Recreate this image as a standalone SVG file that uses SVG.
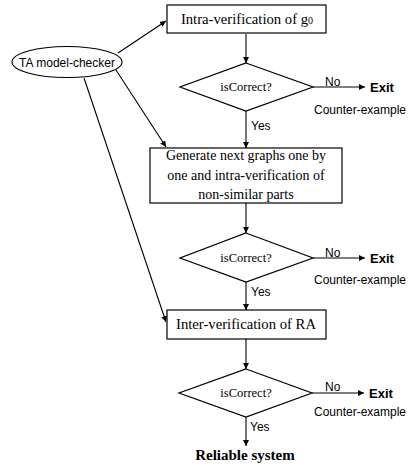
<svg xmlns="http://www.w3.org/2000/svg" width="409" height="466" viewBox="0 0 409 466">
<defs>
<marker id="ah" viewBox="0 0 10 10" refX="10" refY="5" markerWidth="6" markerHeight="6" markerUnits="userSpaceOnUse" orient="auto">
<path d="M0,0 L10,5 L0,10 z" fill="#000"/>
</marker>
</defs>
<style>
.box{fill:#fff;stroke:#000;stroke-width:1.2}
.ln{fill:none;stroke:#000;stroke-width:1.1;marker-end:url(#ah)}
.ser{font-family:"Liberation Serif","Times New Roman",serif;font-size:14px;fill:#000;text-anchor:middle}
.big{font-size:14.7px}
.dec{font-family:"Liberation Serif","Times New Roman",serif;font-size:12.5px;fill:#000;text-anchor:middle}
.sans{font-family:"Liberation Sans",Arial,sans-serif;font-size:12px;fill:#000}
.exit{font-family:"Liberation Sans",Arial,sans-serif;font-size:13px;font-weight:bold;fill:#000}
.bold{font-family:"Liberation Serif","Times New Roman",serif;font-size:15px;font-weight:bold;fill:#000;text-anchor:middle}
</style>
<g id="connectors">
<line class="ln" x1="118" y1="53" x2="166" y2="21"/>
<line class="ln" x1="116" y1="70" x2="166" y2="147"/>
<line class="ln" x1="84" y1="78" x2="166" y2="322"/>
<line class="ln" x1="246" y1="34" x2="246" y2="63"/>
<line class="ln" x1="246" y1="111" x2="246" y2="148"/>
<line class="ln" x1="313" y1="87" x2="365" y2="87"/>
<line class="ln" x1="246" y1="203" x2="246" y2="233"/>
<line class="ln" x1="246" y1="282" x2="246" y2="310"/>
<line class="ln" x1="313" y1="258" x2="365" y2="258"/>
<line class="ln" x1="246" y1="339" x2="246" y2="369"/>
<line class="ln" x1="246" y1="417" x2="246" y2="446"/>
<line class="ln" x1="312" y1="393" x2="364" y2="393"/>
<text class="sans" x="325" y="86">No</text>
<text class="sans" x="251" y="130">Yes</text>
<text class="sans" x="325" y="257">No</text>
<text class="sans" x="251" y="296">Yes</text>
<text class="sans" x="325" y="391">No</text>
<text class="sans" x="250" y="431">Yes</text>
</g>
<g id="model-checker">
<ellipse cx="67" cy="62" rx="55" ry="15.5" fill="#fff" stroke="#000" stroke-width="1.1"/>
<text class="sans" x="67" y="66.5" text-anchor="middle">TA model-checker</text>
</g>
<g id="intra-g0">
<rect class="box" x="167" y="5" width="159" height="28"/>
<text class="ser big" x="247" y="24">Intra-verification of g<tspan font-size="10">0</tspan></text>
</g>
<g id="check1">
<polygon class="box" points="246,63 313,87 246,111 180,87"/>
<text class="dec" x="246" y="91">isCorrect?</text>
</g>
<g id="exit1">
<text class="exit" x="370" y="92">Exit</text>
<text class="sans" x="314" y="114">Counter-example</text>
</g>
<g id="generate">
<rect class="box" x="150" y="148" width="192" height="55"/>
<text class="ser" x="246" y="160">Generate next graphs one by</text>
<text class="ser" x="246" y="180">one and intra-verification of</text>
<text class="ser" x="246" y="199">non-similar parts</text>
</g>
<g id="check2">
<polygon class="box" points="246,233 313,258 246,282 180,258"/>
<text class="dec" x="246" y="262">isCorrect?</text>
</g>
<g id="exit2">
<text class="exit" x="370" y="263">Exit</text>
<text class="sans" x="314" y="284">Counter-example</text>
</g>
<g id="inter-ra">
<rect class="box" x="167" y="310" width="159" height="29"/>
<text class="ser big" x="246" y="329">Inter-verification of RA</text>
</g>
<g id="check3">
<polygon class="box" points="246,369 312,393 246,417 179,393"/>
<text class="dec" x="246" y="397">isCorrect?</text>
</g>
<g id="exit3">
<text class="exit" x="369" y="398">Exit</text>
<text class="sans" x="314" y="416">Counter-example</text>
</g>
<g id="reliable">
<text class="bold" x="245" y="460">Reliable system</text>
</g>
</svg>
